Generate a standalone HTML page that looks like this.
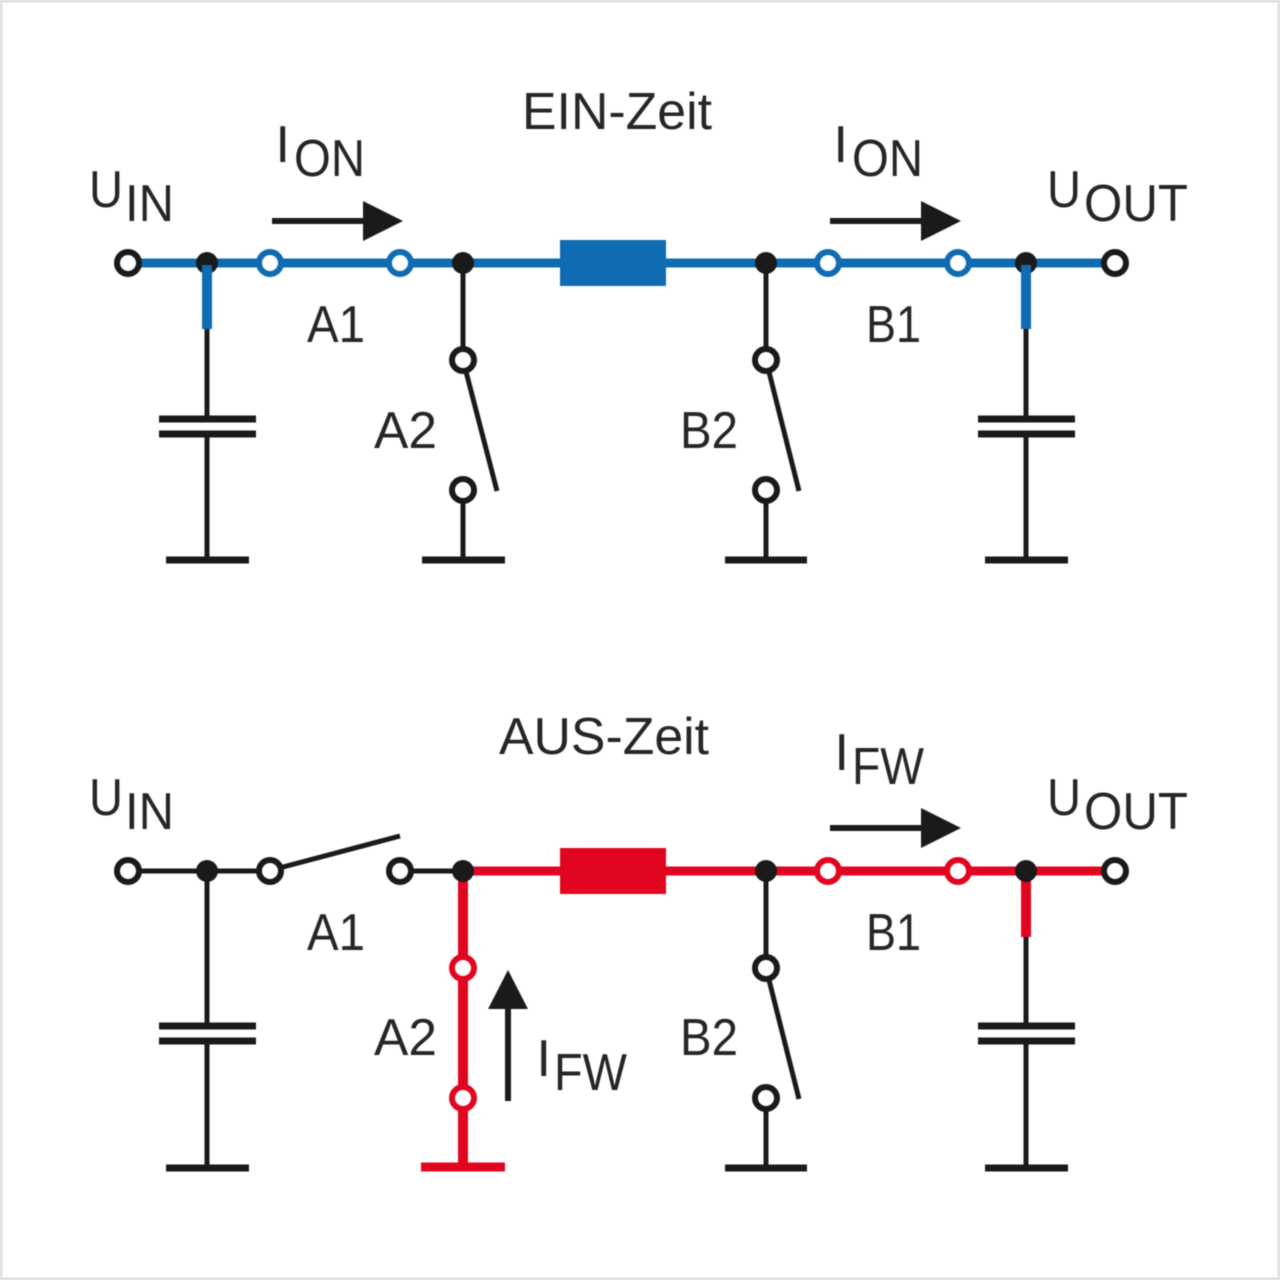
<!DOCTYPE html>
<html>
<head>
<meta charset="utf-8">
<style>
html,body{margin:0;padding:0;background:#fff;}
svg{display:block;filter:blur(0.6px);}
text{font-family:"Liberation Sans",sans-serif;fill:#262626;}
</style>
</head>
<body>
<svg width="1280" height="1280" viewBox="0 0 1280 1280" xmlns="http://www.w3.org/2000/svg">
<rect x="1" y="1" width="1278" height="1278" fill="#fff" stroke="#dcdcdc" stroke-width="3"/>

<!-- TOP -->
<g fill="none" stroke="#1a1a1a" stroke-width="5">
  <path d="M207 325V419M207 434V560"/>
  <path d="M463 263V360M463 490V560M463 360L497 491"/>
  <path d="M766 263V360M766 490V560M766 360L799 491"/>
  <path d="M1026 325V419M1026 434V560"/>
</g>
<g fill="none" stroke="#1a1a1a" stroke-width="7">
  <path d="M159 419H256M159 434H256M166 560H249"/>
  <path d="M422 560H505M725 560H807"/>
  <path d="M978 419H1075M978 434H1075M985 560H1068"/>
</g>
<path d="M272 221H370M830 221H928" fill="none" stroke="#1a1a1a" stroke-width="6"/>
<path d="M128 263H1115" fill="none" stroke="#0f6cb2" stroke-width="9"/>
<rect x="560" y="240" width="106" height="46" fill="#0f6cb2"/>
<polygon points="363,201 403,221 363,241" fill="#1a1a1a"/>
<polygon points="921,201 961,221 921,241" fill="#1a1a1a"/>
<g fill="#1a1a1a">
  <circle cx="207" cy="263" r="11"/><circle cx="463" cy="263" r="11"/><circle cx="766" cy="263" r="11"/><circle cx="1026" cy="263" r="11"/>
</g>
<path d="M207 265V329M1026 265V329" fill="none" stroke="#0f6cb2" stroke-width="10"/>
<g fill="#fff" stroke="#1a1a1a" stroke-width="6">
  <circle cx="128" cy="263" r="11"/><circle cx="1115" cy="263" r="11"/>
  <circle cx="463" cy="360" r="11"/><circle cx="463" cy="490" r="11"/>
  <circle cx="766" cy="360" r="11"/><circle cx="766" cy="490" r="11"/>
</g>
<g fill="#fff" stroke="#0f6cb2" stroke-width="6">
  <circle cx="270" cy="263" r="11"/><circle cx="400" cy="263" r="11"/><circle cx="828" cy="263" r="11"/><circle cx="958" cy="263" r="11"/>
</g>

<!-- BOTTOM -->
<g fill="none" stroke="#1a1a1a" stroke-width="5">
  <path d="M128 871H270M400 871H463M283 867L400 836"/>
  <path d="M207 871V1026M207 1041V1168"/>
  <path d="M766 871V968M766 1098V1168M766 968L799 1099"/>
  <path d="M1026 935V1026M1026 1041V1168"/>
</g>
<g fill="none" stroke="#1a1a1a" stroke-width="7">
  <path d="M159 1026H256M159 1041H256M166 1168H249"/>
  <path d="M725 1168H807"/>
  <path d="M978 1026H1075M978 1041H1075M985 1168H1068"/>
</g>
<path d="M830 828H928M508 1001V1101" fill="none" stroke="#1a1a1a" stroke-width="6"/>
<path d="M463 871H1115" fill="none" stroke="#e2051f" stroke-width="9"/>
<path d="M463 871V1168M1026 871V937" fill="none" stroke="#e2051f" stroke-width="10"/>
<path d="M421 1167H505" fill="none" stroke="#e2051f" stroke-width="9"/>
<rect x="560" y="848" width="106" height="46" fill="#e2051f"/>
<polygon points="921,808 961,828 921,848" fill="#1a1a1a"/>
<polygon points="488,1009 508,970 528,1009" fill="#1a1a1a"/>
<g fill="#1a1a1a">
  <circle cx="207" cy="871" r="11"/><circle cx="463" cy="871" r="11"/><circle cx="766" cy="871" r="11"/><circle cx="1026" cy="871" r="11"/>
</g>
<g fill="#fff" stroke="#1a1a1a" stroke-width="6">
  <circle cx="128" cy="871" r="11"/><circle cx="1115" cy="871" r="11"/>
  <circle cx="270" cy="871" r="11"/><circle cx="400" cy="871" r="11"/>
  <circle cx="766" cy="968" r="11"/><circle cx="766" cy="1098" r="11"/>
</g>
<g fill="#fff" stroke="#e2051f" stroke-width="6">
  <circle cx="828" cy="871" r="11"/><circle cx="958" cy="871" r="11"/>
  <circle cx="463" cy="968" r="11"/><circle cx="463" cy="1098" r="11"/>
</g>

<!-- LABELS -->
<g font-size="52">
  <text x="522" y="129" textLength="190" lengthAdjust="spacingAndGlyphs">EIN-Zeit</text>
  <text x="499" y="754" textLength="210" lengthAdjust="spacingAndGlyphs">AUS-Zeit</text>
  <text x="307" y="342" textLength="58" lengthAdjust="spacingAndGlyphs">A1</text>
  <text x="866" y="342" textLength="55" lengthAdjust="spacingAndGlyphs">B1</text>
  <text x="374" y="448" textLength="63" lengthAdjust="spacingAndGlyphs">A2</text>
  <text x="680" y="448" textLength="58" lengthAdjust="spacingAndGlyphs">B2</text>
  <text x="307" y="950" textLength="58" lengthAdjust="spacingAndGlyphs">A1</text>
  <text x="866" y="950" textLength="55" lengthAdjust="spacingAndGlyphs">B1</text>
  <text x="374" y="1055" textLength="63" lengthAdjust="spacingAndGlyphs">A2</text>
  <text x="680" y="1055" textLength="58" lengthAdjust="spacingAndGlyphs">B2</text>

  <text x="89" y="207" textLength="34" lengthAdjust="spacingAndGlyphs">U</text>
  <text x="125" y="221" textLength="49" lengthAdjust="spacingAndGlyphs">IN</text>
  <text x="1047" y="207" textLength="34" lengthAdjust="spacingAndGlyphs">U</text>
  <text x="1084" y="221" textLength="104" lengthAdjust="spacingAndGlyphs">OUT</text>
  <text x="89" y="815" textLength="34" lengthAdjust="spacingAndGlyphs">U</text>
  <text x="125" y="829" textLength="49" lengthAdjust="spacingAndGlyphs">IN</text>
  <text x="1047" y="815" textLength="34" lengthAdjust="spacingAndGlyphs">U</text>
  <text x="1084" y="829" textLength="104" lengthAdjust="spacingAndGlyphs">OUT</text>

  <text x="275.500" y="162">I</text>
  <text x="294" y="176" textLength="71" lengthAdjust="spacingAndGlyphs">ON</text>
  <text x="833.500" y="162">I</text>
  <text x="852" y="176" textLength="71" lengthAdjust="spacingAndGlyphs">ON</text>
  <text x="834.500" y="770">I</text>
  <text x="852" y="784" textLength="72" lengthAdjust="spacingAndGlyphs">FW</text>
  <text x="536.500" y="1076">I</text>
  <text x="554" y="1090" textLength="73" lengthAdjust="spacingAndGlyphs">FW</text>
</g>
</svg>
</body>
</html>
